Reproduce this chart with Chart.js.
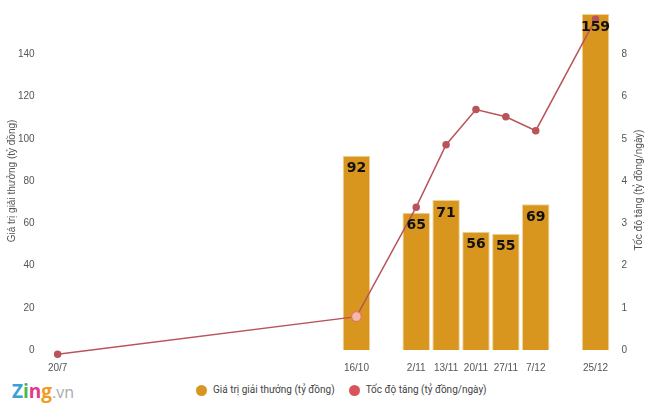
<!DOCTYPE html>
<html><head><meta charset="utf-8">
<script src="https://cdn.jsdelivr.net/npm/chart.js@4"></script>
<style>
body{margin:0;background:#fff;font-family:Roboto,"Open Sans",sans-serif;}
#wrap{position:absolute;left:0;top:0;width:650px;height:378px;}
#legend{position:absolute;top:384px;left:196px;font-size:10px;color:#444;}
#legend span.d{display:inline-block;width:11px;height:11px;border-radius:50%;vertical-align:middle;margin:0 6px 0 0;}
#logo{position:absolute;left:12px;top:378px;font:bold 19px "Open Sans",sans-serif;}
</style></head><body>
<div id="wrap"><canvas id="c"></canvas></div>
<div id="logo"><span style="color:#3aa0d8">Z</span><span style="color:#49b84b">i</span><span style="color:#e1398b">n</span><span style="color:#f29c1f">g</span><span style="color:#aaa;font-weight:normal;font-size:16px">.vn</span></div>
<div id="legend"><span class="d" style="background:#d8961f;margin-left:0"></span>Giá trị giải thưởng (tỷ đồng)<span class="d" style="background:#d9545a;margin-left:14px"></span>Tốc độ tăng (tỷ đồng/ngày)</div>
<script>
const labels=["20/7","","","","","","","","","","16/10","","2/11","13/11","20/11","27/11","7/12","","25/12"];
const prize=[null,null,null,null,null,null,null,null,null,null,92,null,65,71,56,55,69,null,159];
const rate=[-0.1,null,null,null,null,null,null,null,null,null,0.79,null,3.38,4.86,5.69,5.52,5.19,null,7.83];
const valLabels={
  id:'vl',afterDatasetsDraw(ch){const ctx=ch.ctx;const m=ch.getDatasetMeta(1);
  ctx.save();ctx.font='bold 14px "DejaVu Sans",sans-serif';ctx.fillStyle='#111';ctx.textAlign='center';ctx.textBaseline='top';
  m.data.forEach((b,i)=>{if(prize[i]!=null)ctx.fillText(prize[i],b.x,b.y+6);});
  ctx.font='10px Roboto';ctx.fillStyle='#555';ctx.textAlign='center';ctx.textBaseline='middle';
  ctx.translate(639,190);ctx.rotate(-Math.PI/2);ctx.fillText('Tốc độ tăng (tỷ đồng/ngày)',0,0);
  ctx.restore();}};
new Chart(document.getElementById('c'),{
 data:{labels,datasets:[
  {type:'line',data:rate,yAxisID:'y1',clip:false,borderColor:'#b8545a',borderWidth:1.5,spanGaps:true,pointRadius:[3,0,0,0,0,0,0,0,0,0,5,0,3,3,3,3,3,0,3],pointBackgroundColor:['#b8545a',0,0,0,0,0,0,0,0,0,'#f3b9a8',0,'#b8545a','#b8545a','#b8545a','#b8545a','#b8545a',0,'#b8545a'],pointBorderColor:['#b8545a',0,0,0,0,0,0,0,0,0,'#e37a5a',0,'#b8545a','#b8545a','#b8545a','#b8545a','#b8545a',0,'#b8545a'],pointBorderWidth:1.5,order:0},
  {type:'bar',data:prize,yAxisID:'y',backgroundColor:'#d8961f',borderColor:'#f1d39a',borderWidth:1,barPercentage:0.92,categoryPercentage:1,order:1}
 ]},
 options:{responsive:true,maintainAspectRatio:false,animation:false,
  layout:{padding:{left:6,right:20,top:12,bottom:0}},
  plugins:{legend:{display:false},tooltip:{enabled:false}},
  scales:{
   x:{grid:{display:false},border:{display:false},ticks:{color:'#555',font:{size:10},autoSkip:false,maxRotation:0,padding:4}},
   y:{position:'left',min:0,max:160,grid:{display:false},border:{display:false},
      ticks:{stepSize:20,color:'#555',font:{size:10},callback:v=>v===160?'':v,padding:0},
      title:{display:true,text:'Giá trị giải thưởng (tỷ đồng)',color:'#555',font:{size:10},padding:{top:0,bottom:0}}},
   y1:{position:'right',min:0,max:8,grid:{display:false},border:{display:false},
      ticks:{stepSize:1,color:'#555',font:{size:10},callback:v=>v===8?'':(v===7?'8':v),padding:3}}
  }},
 plugins:[valLabels]});
</script></body></html>
